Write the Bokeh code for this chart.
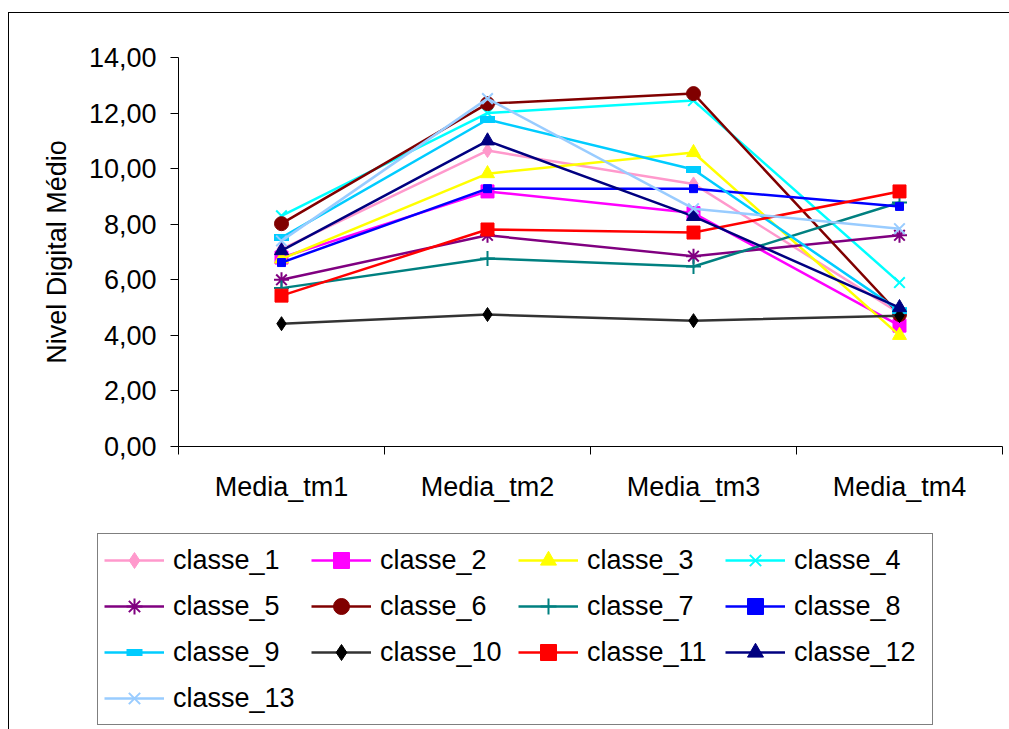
from bokeh.plotting import figure
from bokeh.models import (Range1d, FixedTicker, CustomJSTickFormatter, Legend, LegendItem,
                          LinearAxis)
from bokeh.embed import file_html
from bokeh.resources import INLINE

categories = ["Media_tm1", "Media_tm2", "Media_tm3", "Media_tm4"]
y_ticks = [0, 2, 4, 6, 8, 10, 12, 14]

classe_1 = [7.10, 10.65, 9.45, 4.80]
classe_2 = [6.80, 9.18, 8.40, 4.35]
classe_3 = [6.75, 9.82, 10.58, 4.00]
classe_4 = [8.30, 12.00, 12.45, 5.90]
classe_5 = [6.00, 7.60, 6.85, 7.60]
classe_6 = [8.02, 12.34, 12.70, 4.75]
classe_7 = [5.70, 6.77, 6.48, 8.78]
classe_8 = [6.62, 9.28, 9.28, 8.64]
classe_9 = [7.52, 11.77, 9.97, 4.89]
classe_10 = [4.42, 4.75, 4.53, 4.71]
classe_11 = [5.43, 7.81, 7.70, 9.18]
classe_12 = [7.05, 11.00, 8.28, 5.00]
classe_13 = [7.40, 12.52, 8.56, 7.84]

series_names = ["classe_1", "classe_2", "classe_3", "classe_4", "classe_5", "classe_6",
                "classe_7", "classe_8", "classe_9", "classe_10", "classe_11", "classe_12",
                "classe_13"]
series_values = [classe_1, classe_2, classe_3, classe_4, classe_5, classe_6, classe_7,
                 classe_8, classe_9, classe_10, classe_11, classe_12, classe_13]
line_colors = ["#FF99CC", "#FF00FF", "#FFFF00", "#00FFFF", "#800080", "#800000", "#008080",
               "#0000FF", "#00CCFF", "#333333", "#FF0000", "#000080", "#99CCFF"]
marker_colors = ["#FF99CC", "#FF00FF", "#FFFF00", "#00FFFF", "#800080", "#800000", "#008080",
                 "#0000FF", "#00CCFF", "#000000", "#FF0000", "#000080", "#99CCFF"]
markers = ["diamond", "square", "triangle", "x", "asterisk", "circle", "cross", "square",
           "dash", "diamond", "square", "triangle", "x"]
msizes = [14, 13, 14, 15, 15, 14, 15, 8, 15, 14, 13, 14, 15]
mline = [1, 1, 1, 2, 2, 1, 2, 1, 7, 1, 1, 1, 2]

xc = [i + 0.5 for i in range(len(categories))]
n_cat = len(categories)
y_max = y_ticks[-1]

# Layout: plot area in pixels (left, right, top, bottom) inside a 1009 x 729 canvas
W, H = 1009, 729
area_l, area_r, area_t, area_b = 178, 1002, 57, 446
ppx = (area_r - area_l) / n_cat
ppy = (area_b - area_t) / y_max
x_range = Range1d(-area_l / ppx, n_cat + (W - area_r) / ppx)
y_range = Range1d(-(H - area_b) / ppy, y_max + area_t / ppy)

bg = ("linear-gradient(#000, #000) 8px 12px / 1px 100% no-repeat, "
      "linear-gradient(#000, #000) 8px 12px / 100% 1px no-repeat, white")

p = figure(width=W, height=H, output_backend="svg", toolbar_location=None,
           x_range=x_range, y_range=y_range, min_border=0,
           x_axis_location=None, y_axis_location=None,
           styles={"background": bg})
p.background_fill_color = None
p.border_fill_color = None
p.outline_line_color = None
p.xgrid.visible = False
p.ygrid.visible = False

items = []
for name, vals, lc, mc, mk, ms, mlw in zip(series_names, series_values, line_colors,
                                           marker_colors, markers, msizes, mline):
    r1 = p.line(xc, vals, line_color=lc, line_width=2.5)
    r2 = p.scatter(xc, vals, marker=mk, size=ms, fill_color=mc, line_color=mc, line_width=mlw)
    items.append(LegendItem(label=name, renderers=[r1, r2]))

font = "Liberation Sans"
fsize = "27px"

yax = LinearAxis(fixed_location=0, bounds=(0, y_max))
yax.ticker = FixedTicker(ticks=y_ticks)
yax.formatter = CustomJSTickFormatter(code="return tick.toFixed(2).replace('.', ',');")
yax.major_tick_in = 0
yax.major_tick_out = 8
yax.minor_tick_line_color = None
yax.major_label_standoff = 14
yax.major_label_text_font = font
yax.major_label_text_font_size = fsize
yax.major_label_text_color = "black"
yax.axis_label = "Nivel Digital Médio"
yax.axis_label_text_font = font
yax.axis_label_text_font_size = fsize
yax.axis_label_text_font_style = "normal"
yax.axis_label_text_color = "black"
yax.axis_label_standoff = 14
yax.axis_line_color = "black"
yax.major_tick_line_color = "black"
p.add_layout(yax, "left")

xax = LinearAxis(fixed_location=0, bounds=(0, n_cat))
xax.ticker = FixedTicker(ticks=xc, minor_ticks=list(range(n_cat + 1)))
xax.major_label_overrides = {x: c for x, c in zip(xc, categories)}
xax.major_tick_line_color = None
xax.major_tick_in = 0
xax.major_tick_out = 0
xax.minor_tick_in = 0
xax.minor_tick_out = 8
xax.minor_tick_line_color = "black"
xax.major_label_standoff = 17
xax.major_label_text_font = font
xax.major_label_text_font_size = fsize
xax.major_label_text_color = "black"
xax.axis_line_color = "black"
p.add_layout(xax, "below")

legend = Legend(items=items, location=(97, 4), orientation="horizontal", ncols=4,
                glyph_width=60, glyph_height=40, label_height=40, label_width=132,
                label_standoff=9, spacing=6, padding=6, margin=0,
                label_text_font=font, label_text_font_size=fsize, label_text_color="black",
                border_line_color="black", border_line_width=1,
                background_fill_color="white", background_fill_alpha=1)
p.add_layout(legend, "center")

open("out.html", "w").write(file_html(p, INLINE))
